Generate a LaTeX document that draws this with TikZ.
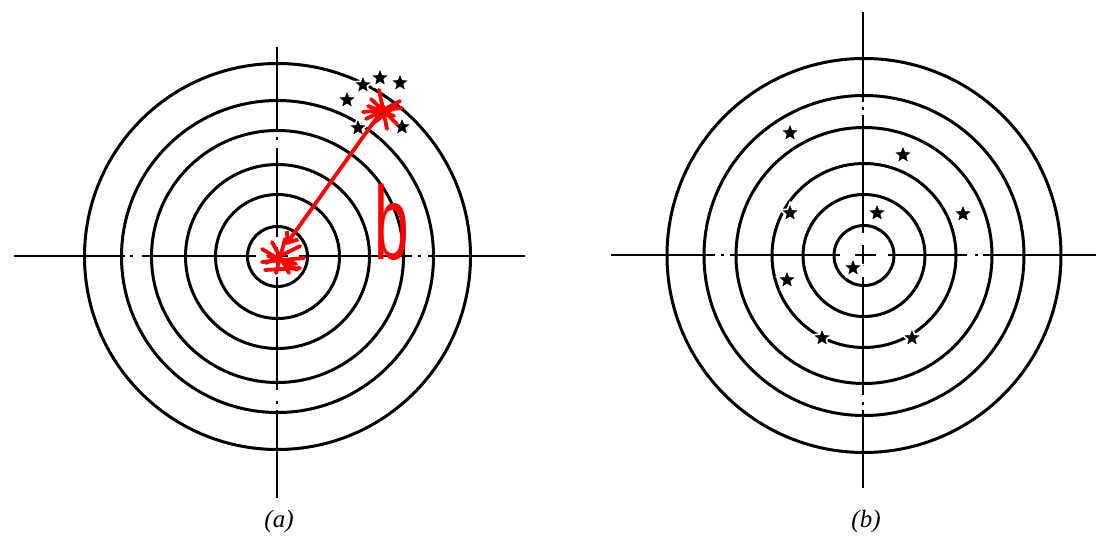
\documentclass[tikz,border=0pt]{standalone}
\usepackage{fontspec}
\setmainfont{Liberation Serif}
\newfontfamily\handfont{Liberation Sans}
\usetikzlibrary{arrows.meta,positioning,shapes.geometric}
\tikzset{
  ring/.style={line width=3pt},
  hair/.style={line width=2.8pt},
  shot/.style={star,star points=5,star point ratio=2.3,fill=black,draw=white,line width=1.6pt,minimum size=21pt,inner sep=0pt},
  redink/.style={draw=red,line width=3.8pt,line cap=round,line join=round},
  caption/.style={font=\fontsize{25}{28}\selectfont\itshape}
}

\begin{document}
\begin{tikzpicture}[x=1pt,y=-1pt,>=stealth]
\useasboundingbox (0,0) rectangle (1096,538);
\coordinate (ctrA) at (277.5,256.5);
\coordinate (ctrB) at (864,255.5);
% rings
\foreach \r in {30,62,92,126,156,193}
  \draw[ring] (ctrA) circle (\r pt);
\foreach \r in {30,61,92,128,160,197}
  \draw[ring] (ctrB) circle (\r pt);
% cross lines, target a
\draw[hair] (14,256) -- (125,256);
\draw[hair] (130,256) -- (133,256);
\draw[hair] (142,256) -- (256,256);
\draw[hair] (268,256) -- (288,256);
\draw[hair] (299,256) -- (412,256);
\draw[hair] (418,256) -- (421,256);
\draw[hair] (428,256) -- (525,256);
\draw[hair] (277,47) -- (277,132);
\draw[hair] (277,137) -- (277,140);
\draw[hair] (277,148) -- (277,237);
\draw[hair] (277,247) -- (277,267);
\draw[hair] (277,277) -- (277,390);
\draw[hair] (277,401) -- (277,404);
\draw[hair] (277,410) -- (277,498);
% cross lines, target b
\draw[hair] (611,255) -- (715,255);
\draw[hair] (721,255) -- (724,255);
\draw[hair] (730,255) -- (840,255);
\draw[hair] (855,255) -- (876,255);
\draw[hair] (888,255) -- (967,255);
\draw[hair] (975,255) -- (978,255);
\draw[hair] (983,255) -- (1096,255);
\draw[hair] (863,12) -- (863,102);
\draw[hair] (863,107) -- (863,110);
\draw[hair] (863,115) -- (863,233);
\draw[hair] (863,245) -- (863,266);
\draw[hair] (863,277) -- (863,395);
\draw[hair] (863,402) -- (863,405);
\draw[hair] (863,410) -- (863,488);
% shots, target a
\node[shot] (sA1) at (363,85) {};
\node[shot] (sA2) at (380,78) {};
\node[shot] (sA3) at (400,83) {};
\node[shot] (sA4) at (347,100) {};
\node[shot] (sA5) at (383,110) {};
\node[shot] (sA6) at (358,128) {};
\node[shot] (sA7) at (402,127) {};
% shots, target b
\node[shot] (sB1) at (790,133) {};
\node[shot] (sB2) at (903,155) {};
\node[shot] (sB3) at (790,213) {};
\node[shot] (sB4) at (877,213) {};
\node[shot] (sB5) at (963,214) {};
\node[shot] (sB6) at (787,280) {};
\node[shot] (sB7) at (853,268) {};
\node[shot] (sB8) at (822,338) {};
\node[shot] (sB9) at (912,338) {};
% red notes
\coordinate (hitA) at (378,116);
\draw[redink] (366,119) -- (400,101);
\draw[redink] (371,99) -- (397,124);
\draw[redink] (379,90) -- (387,129);
\draw[redink] (363,112) -- (402,108);
\draw[redink] (372,124) -- (396,106);
\draw[redink] (368,106) -- (394,116);
\draw[redink] (262,262) -- (304,258);
\draw[redink] (265,270) -- (300,268);
\draw[redink] (272,242) -- (289,273);
\draw[redink] (262,249) -- (297,270);
\draw[redink] (285,239) -- (276,273);
\draw[redink] (300,246) -- (266,263);
\draw[redink] (268,256) -- (296,264);
\draw[redink,-{Straight Barb[length=9pt,width=14pt]},shorten >=14pt] (hitA) -- (ctrA);
\node[red,font=\handfont\fontsize{104}{104}\selectfont,xscale=0.6,transform shape,anchor=base] (distB) at (392,259) {b};
% captions
\node[caption] (capA) at (279,521) {(a)};
\node[caption] (capB) at (866,521) {(b)};
\end{tikzpicture}
\end{document}
